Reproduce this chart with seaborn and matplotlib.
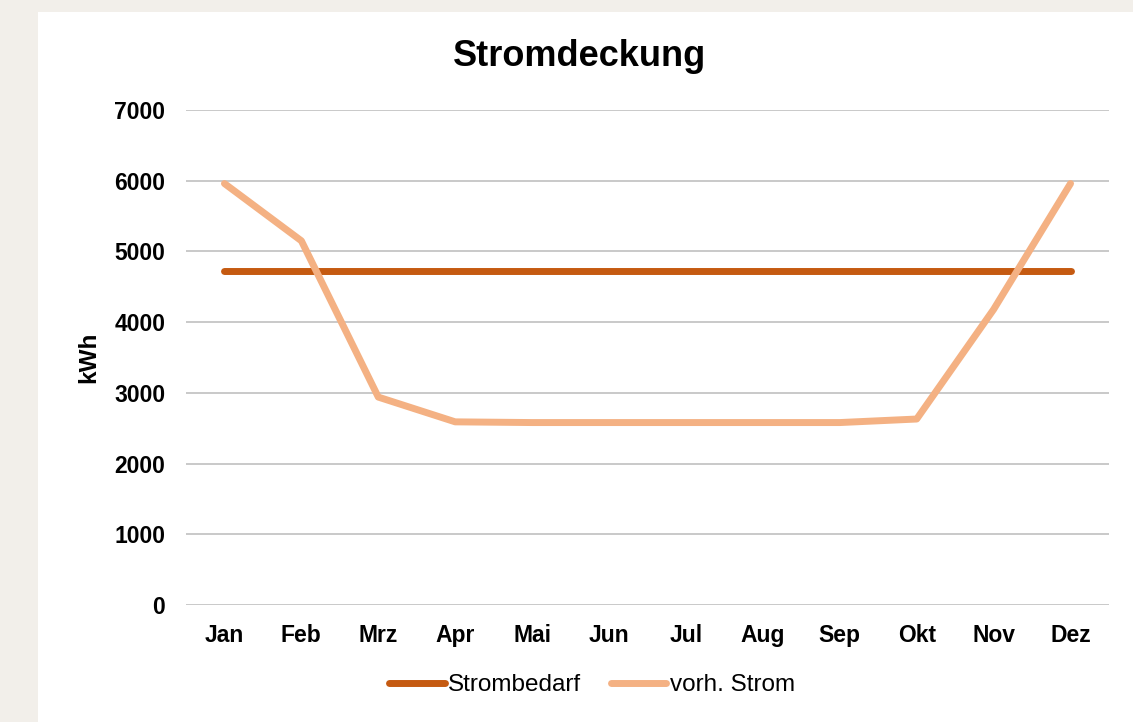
import pandas as pd
import seaborn as sns
import matplotlib.pyplot as plt
from matplotlib.patches import Rectangle

# monthly values (kWh)
months = ["Jan", "Feb", "Mrz", "Apr", "Mai", "Jun", "Jul", "Aug", "Sep", "Okt", "Nov", "Dez"]
strombedarf = [4730, 4730, 4730, 4730, 4730, 4730, 4730, 4730, 4730, 4730, 4730, 4730]
vorh_strom = [5960, 5150, 2940, 2590, 2580, 2580, 2580, 2580, 2580, 2630, 4180, 5960]

df = pd.DataFrame({
    "Monat": months * 2,
    "kWh": strombedarf + vorh_strom,
    "Serie": ["Strombedarf"] * 12 + ["vorh. Strom"] * 12,
})

sns.set_theme(style="white")
plt.rcParams['font.family'] = ['Liberation Sans', 'DejaVu Sans']

fig = plt.figure(figsize=(11.33, 7.22), dpi=100)
fig.patch.set_facecolor("#F2EFEA")
# white chart area, behind the axes
fig.patches.append(Rectangle((38 / 1133, 0), 1, 1 - 12 / 722, transform=fig.transFigure,
                             facecolor="white", edgecolor="none", zorder=-10))

ax = fig.add_axes([186 / 1133, 1 - 605 / 722, (1109 - 186) / 1133, (605 - 110) / 722])
ax.set_facecolor("none")
ax.set_zorder(1)

colors = {"Strombedarf": "#C55A11", "vorh. Strom": "#F4B183"}
sns.lineplot(data=df, x="Monat", y="kWh", hue="Serie", palette=colors, sort=False,
             linewidth=5, ax=ax, legend=False, solid_capstyle="round")

ax.set_xlim(-0.5, 11.5)
ax.set_ylim(0, 7000)
ax.set_yticks(range(0, 7001, 1000))
ax.grid(axis="y", color="#C9C9C9", linewidth=1.4)
ax.set_axisbelow(True)
for s in ax.spines.values():
    s.set_visible(False)
ax.tick_params(axis="both", length=0, labelsize=16.5, colors="black")
ax.tick_params(axis="y", pad=15)
ax.tick_params(axis="x", pad=14)
for lbl in ax.get_xticklabels() + ax.get_yticklabels():
    lbl.set_fontweight("bold")

ax.set_xlabel("")
ax.set_ylabel("kWh", fontsize=17.5, fontweight="bold", color="black", labelpad=10)

fig.text(580 / 1133, 1 - 57 / 722, "Stromdeckung", ha="center", va="center",
         fontsize=26, fontweight="bold", color="black")

handles = [plt.Line2D([], [], color=colors[k], linewidth=5, solid_capstyle="round") for k in colors]
fig.legend(handles, list(colors), loc="center", bbox_to_anchor=(592 / 1133, 1 - 685 / 722),
           ncol=2, frameon=False, fontsize=17.5, handlelength=2.3, handletextpad=0.15,
           columnspacing=1.2, labelcolor="black")

fig.savefig("out.png", dpi=100, facecolor=fig.get_facecolor())
